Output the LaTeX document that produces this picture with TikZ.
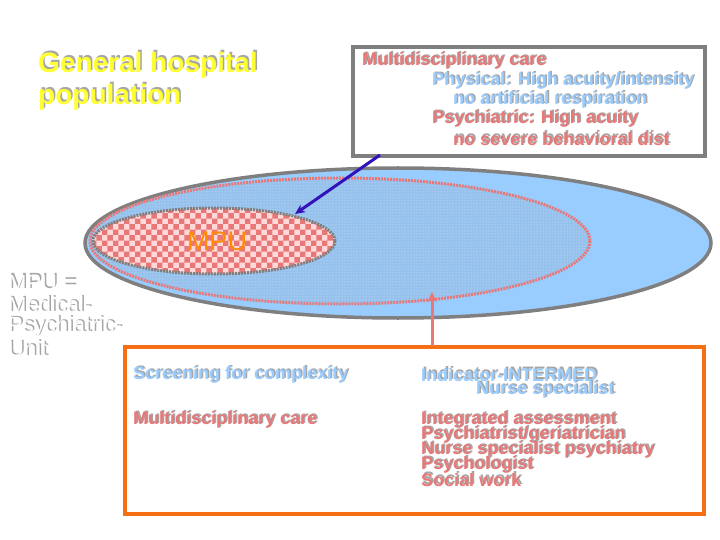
\documentclass[tikz,border=0pt]{standalone}
\usepackage{fontspec}
\setmainfont{Liberation Sans}
\usetikzlibrary{arrows.meta,patterns}
\definecolor{pinkred}{HTML}{E87878}
\definecolor{lblue}{HTML}{99CCFF}
\definecolor{ygold}{HTML}{FFFF33}
\definecolor{orng}{HTML}{F57015}
\definecolor{mgray}{HTML}{7F7F7F}
\definecolor{arrblue}{HTML}{3311BB}
\newcommand{\shtxt}[6]{% name, x, y, color, size, text
  \node[anchor=west,inner sep=0pt,text=gray!70,font=\bfseries\fontsize{#5}{#5}\selectfont] (#1s) at (#2+1.5,#3-1.5) {#6};
  \node[anchor=west,inner sep=0pt,text=#4,font=\bfseries\fontsize{#5}{#5}\selectfont] (#1) at (#2,#3) {#6};}
\begin{document}
\begin{tikzpicture}[x=1pt,y=-1pt]
\useasboundingbox[fill=white] (0,0) rectangle (720,540);
% ellipses
\draw[mgray,line width=3.5pt,fill=lblue] (398,243) ellipse [x radius=313,y radius=75];
\fill[lblue!85!gray] (340,241) ellipse [x radius=250,y radius=63];
\fill[pattern=dots,pattern color=white!60!lblue] (340,241) ellipse [x radius=250,y radius=63];
\draw[pinkred,line width=3pt,dash pattern=on 2pt off 1pt] (340,241) ellipse [x radius=250,y radius=63];
\fill[pink!60] (214,241) ellipse [x radius=121,y radius=33];
\fill[pattern=checkerboard,pattern color=pinkred] (214,241) ellipse [x radius=121,y radius=33];
\draw[mgray,line width=3pt,dash pattern=on 2pt off 1pt] (214,241) ellipse [x radius=121,y radius=33];
\coordinate (mputip) at (295,214);
\node[inner sep=0pt,text=orange!90!yellow,font=\fontsize{27}{27}\selectfont] (mpu) at (217,241) {MPU};
% title
\shtxt{t1}{38}{65}{ygold}{28}{General hospital}
\shtxt{t2}{38}{97}{ygold}{28}{population}
% side text
\shtxt{m1}{8}{283}{white}{22}{\mdseries MPU =}
\shtxt{m2}{8}{305}{white}{22}{\mdseries Medical-}
\shtxt{m3}{8}{327}{white}{22}{\mdseries Psychiatric-}
\shtxt{m4}{8}{349}{white}{22}{\mdseries Unit}
% top box
\draw[mgray,line width=3.5pt,fill=white] (353,47) rectangle (705,156);
\node[inner sep=0pt] (topbox) at (529,101) {};
\shtxt{a1}{362}{61}{pinkred}{18}{Multidisciplinary care}
\shtxt{a2}{432}{81}{lblue}{18}{Physical: High acuity/intensity}
\shtxt{a3}{453}{100}{lblue}{18}{no artificial respiration}
\shtxt{a4}{432}{119}{pinkred}{18}{Psychiatric: High acuity}
\shtxt{a5}{453}{139}{pinkred}{18}{no severe behavioral dist}
\coordinate (atail) at (380,155);
\draw[arrblue,line width=3pt,-{Stealth[length=10pt,width=9pt]}] (atail) -- (mputip);
% bottom box
\draw[orng,line width=3.5pt,fill=white] (125,347) rectangle (704,514);
\coordinate (ptail) at (432,346);
\coordinate (phead) at (432,292);
\draw[pinkred,line width=3pt,-{Stealth[length=10pt,width=9pt]}] (ptail) -- (phead);
\shtxt{b1}{133}{375}{lblue}{18}{Screening for complexity}
\shtxt{b2}{133}{420}{pinkred}{18}{Multidisciplinary care}
\shtxt{b3}{421}{375}{lblue}{18}{Indicator-INTERMED}
\shtxt{b4}{476}{390}{lblue}{18}{Nurse specialist}
\shtxt{c1}{421}{420}{pinkred}{18}{Integrated assessment}
\shtxt{c2}{421}{435}{pinkred}{18}{Psychiatrist/geriatrician}
\shtxt{c3}{421}{450}{pinkred}{18}{Nurse specialist psychiatry}
\shtxt{c4}{421}{465}{pinkred}{18}{Psychologist}
\shtxt{c5}{421}{480}{pinkred}{18}{Social work}
\end{tikzpicture}
\end{document}
